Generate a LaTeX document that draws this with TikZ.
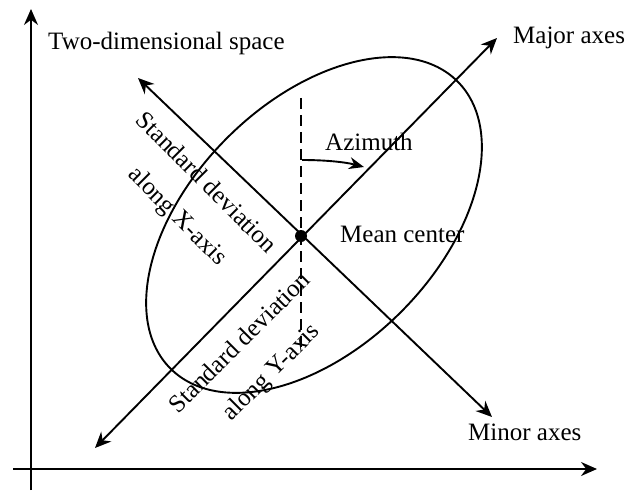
\documentclass[tikz,border=0pt]{standalone}
\usepackage{fontspec}
\setmainfont{Liberation Serif}
\usetikzlibrary{arrows.meta}
\begin{document}
\begin{tikzpicture}[x=1pt,y=-1pt,
  thickline/.style={line width=1.9pt},
  onetip/.style={thickline,-{Stealth[length=16pt,width=14pt]}},
  twotips/.style={thickline,{Stealth[length=16pt,width=14pt]}-{Stealth[length=16pt,width=14pt]}},
  lbl/.style={font=\fontsize{25}{30}\selectfont, inner sep=0pt},
]
\useasboundingbox (0,0) rectangle (626,492);
% axes
\coordinate (ybot) at (31,490);
\coordinate (ytop) at (31,9);
\coordinate (xleft) at (13,469);
\coordinate (xright) at (597,469);
\draw[onetip] (ybot) -- (ytop);
\draw[onetip] (xleft) -- (xright);
% ellipse
\coordinate (E) at (314,225);
\draw[thickline, rotate around={45:(E)}] (E) ellipse [x radius=203, y radius=123];
% mean center
\node[circle, fill=black, inner sep=0pt, minimum size=12pt] (c) at (301,236) {};
% major / minor axes
\coordinate (majNE) at (497,38);
\coordinate (majSW) at (95,448);
\coordinate (minNW) at (138,78);
\coordinate (minSE) at (492,417);
\draw[twotips] (majSW) -- (majNE);
\draw[twotips] (minNW) -- (minSE);
% dashed vertical
\coordinate (dtop) at (301,98);
\coordinate (dbot) at (301,352);
\draw[line width=2.4pt, dash pattern=on 11pt off 6pt] (dtop) -- (dbot);
% azimuth arc
\coordinate (az0) at (302,160);
\coordinate (az1) at (364,167);
\draw[thickline,-{Stealth[length=15pt,width=12pt]}] (az0) .. controls (325,160) and (345,162) .. (az1);
% labels
\node[lbl, anchor=base west] (two) at (48,50) {Two-dimensional space};
\node[lbl, anchor=base west] (major) at (513,44) {Major axes};
\node[lbl, anchor=base west] (minor) at (468,440) {Minor axes};
\node[lbl, anchor=base west] (azi) at (325,150) {Azimuth};
\node[lbl, anchor=base west] (mean) at (340,242) {Mean center};
\node[lbl, rotate=-45] (sdx1) at (207,182) {Standard deviation};
\node[lbl, rotate=-45] (sdx2) at (177,217) {along X-axis};
\node[lbl, rotate=45] (sdy1) at (239,342) {Standard deviation};
\node[lbl, rotate=45] (sdy2) at (272,373) {along Y-axis};
\end{tikzpicture}
\end{document}
